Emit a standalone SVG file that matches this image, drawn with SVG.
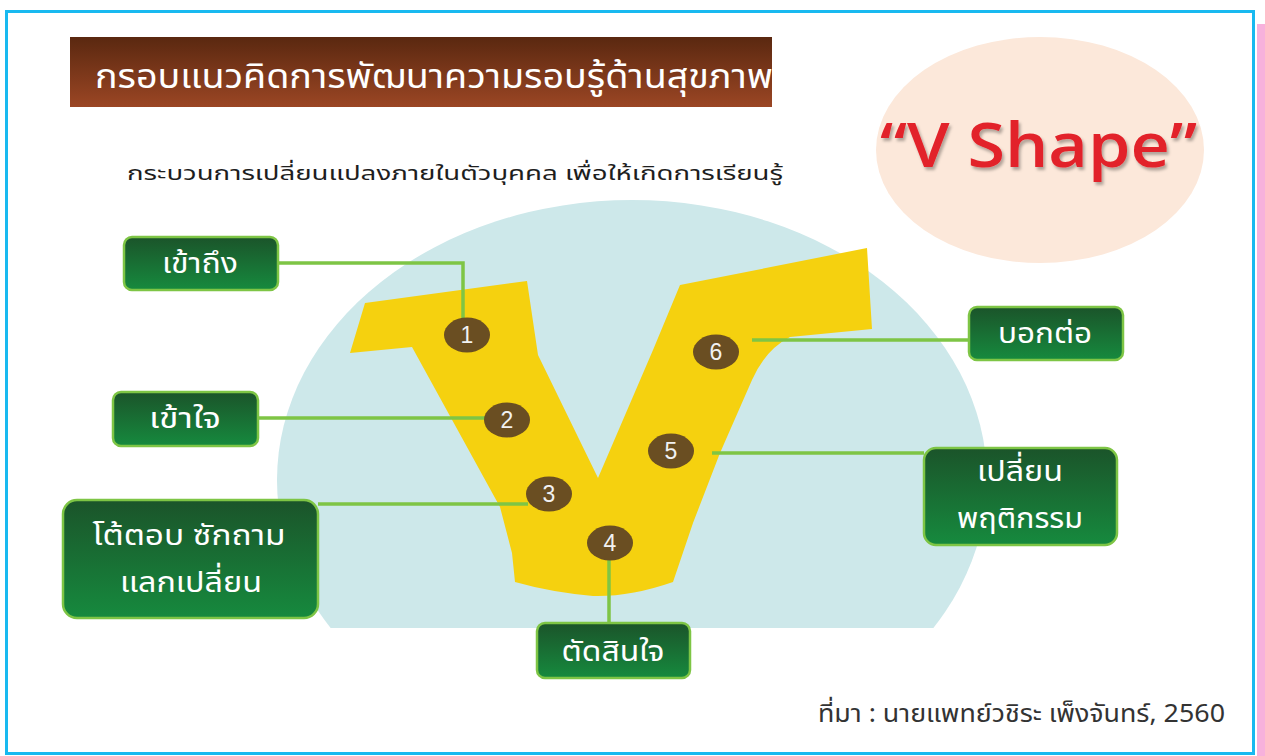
<svg xmlns="http://www.w3.org/2000/svg" width="1265" height="756" viewBox="0 0 1265 756">
  <defs>
    <linearGradient id="titleGrad" x1="0" y1="0" x2="0" y2="1">
      <stop offset="0" stop-color="#5a2810"/>
      <stop offset="1" stop-color="#9b4624"/>
    </linearGradient>
    <linearGradient id="boxGrad" x1="0" y1="0" x2="0" y2="1">
      <stop offset="0" stop-color="#1b542a"/>
      <stop offset="1" stop-color="#168a3e"/>
    </linearGradient>
    <filter id="shadow" x="-10%" y="-20%" width="130%" height="150%">
      <feDropShadow dx="2" dy="3" stdDeviation="1.5" flood-color="#000" flood-opacity="0.3"/>
    </filter>
    <clipPath id="domeClip">
      <rect x="0" y="0" width="1265" height="628"/>
    </clipPath>
  </defs>
  <style>
    .thai { font-family: "Noto Sans Thai", "Noto Sans", "DejaVu Sans", sans-serif; }
    .box { fill: url(#boxGrad); stroke: #7ec545; stroke-width: 2.5; }
    .boxText { fill: #ffffff; font-size: 29px; text-anchor: middle; }
    .conn { stroke: #7ec545; stroke-width: 3.5; fill: none; }
    .badge { fill: #6a4e22; }
    .badgeText { fill: #f2f2f2; font-family: "Liberation Sans", Arial, sans-serif; font-size: 23px; text-anchor: middle; }
  </style>

  <rect x="0" y="0" width="1265" height="756" fill="#ffffff"/>
  <!-- pink strip and blue frame -->
  <rect x="1257" y="24" width="8" height="732" fill="#f7b1dc"/>
  <rect x="6.5" y="11.5" width="1247" height="742" fill="#ffffff" stroke="#18b9f0" stroke-width="3"/>

  <!-- title -->
  <g id="title">
    <rect x="70" y="37" width="702" height="70" fill="url(#titleGrad)"/>
    <text class="thai" x="95" y="88" font-size="34" fill="#ffffff" textLength="678" lengthAdjust="spacingAndGlyphs">กรอบแนวคิดการพัฒนาความรอบรู้ด้านสุขภาพ</text>
  </g>

  <g id="subtitle">
    <text class="thai" x="127" y="180" font-size="20" fill="#1e1e1e" textLength="656" lengthAdjust="spacingAndGlyphs">กระบวนการเปลี่ยนแปลงภายในตัวบุคคล  เพื่อให้เกิดการเรียนรู้</text>
  </g>

  <!-- V Shape ellipse -->
  <g id="vshape-label">
    <ellipse cx="1040" cy="150" rx="164" ry="113" fill="#fce8da"/>
    <text x="880" y="167" font-family="'Open Sans', Lato, sans-serif" font-weight="600" font-size="62" fill="#e2232a" filter="url(#shadow)" textLength="317" lengthAdjust="spacingAndGlyphs">“V Shape”</text>
  </g>

  <!-- dome and V -->
  <g id="background-dome">
    <ellipse cx="632" cy="480" rx="355" ry="280" fill="#cde8ea" clip-path="url(#domeClip)"/>
  </g>
  <g id="v-figure">
    <path d="M365,303 L527,281 L538,355 L598,478 L653,350 L680,285 L867,248 L872,329 L790,337 Q765,350 752,380 L720,453 L693,523 L673,582 Q630,597 593,596 Q550,592 515,582 L512,553 L500,507 L412,347 L350,353 Z" fill="#f5d10f"/>
  </g>

  <!-- connectors -->
  <g id="connectors">
    <polyline class="conn" points="278,263 463,263 463,320"/>
    <line class="conn" x1="258" y1="418" x2="487" y2="418"/>
    <line class="conn" x1="318" y1="504" x2="528" y2="504"/>
    <line class="conn" x1="609" y1="560" x2="609" y2="624"/>
    <line class="conn" x1="712" y1="453" x2="924" y2="453"/>
    <line class="conn" x1="752" y1="340" x2="969" y2="340"/>
  </g>

  <!-- badges -->
  <g id="badge1"><ellipse class="badge" cx="467" cy="335" rx="23" ry="17.5"/><text class="badgeText" x="467" y="343">1</text></g>
  <g id="badge2"><ellipse class="badge" cx="507" cy="420" rx="23" ry="17.5"/><text class="badgeText" x="507" y="428">2</text></g>
  <g id="badge3"><ellipse class="badge" cx="549" cy="494" rx="23" ry="17.5"/><text class="badgeText" x="549" y="502">3</text></g>
  <g id="badge4"><ellipse class="badge" cx="610" cy="543" rx="23" ry="17.5"/><text class="badgeText" x="610" y="551">4</text></g>
  <g id="badge5"><ellipse class="badge" cx="671" cy="451" rx="23" ry="17.5"/><text class="badgeText" x="671" y="459">5</text></g>
  <g id="badge6"><ellipse class="badge" cx="716" cy="352" rx="23" ry="17.5"/><text class="badgeText" x="716" y="360">6</text></g>

  <!-- nodes -->
  <g id="node-access">
    <rect class="box" x="124" y="237" width="154" height="53" rx="8"/>
    <text class="thai boxText" x="200" y="273" textLength="76" lengthAdjust="spacingAndGlyphs">เข้าถึง</text>
  </g>
  <g id="node-understand">
    <rect class="box" x="113" y="392" width="145" height="54" rx="8"/>
    <text class="thai boxText" x="185" y="428" textLength="72" lengthAdjust="spacingAndGlyphs">เข้าใจ</text>
  </g>
  <g id="node-interact">
    <rect class="box" x="63" y="500" width="255" height="118" rx="14"/>
    <text class="thai boxText" x="189" y="545" textLength="193" lengthAdjust="spacingAndGlyphs">โต้ตอบ ซักถาม</text>
    <text class="thai boxText" x="191" y="592" textLength="142" lengthAdjust="spacingAndGlyphs">แลกเปลี่ยน</text>
  </g>
  <g id="node-decide">
    <rect class="box" x="537" y="623" width="153" height="55" rx="8"/>
    <text class="thai boxText" x="613" y="661" textLength="103" lengthAdjust="spacingAndGlyphs">ตัดสินใจ</text>
  </g>
  <g id="node-change">
    <rect class="box" x="924" y="448" width="193" height="97" rx="12"/>
    <text class="thai boxText" x="1020" y="481" textLength="86" lengthAdjust="spacingAndGlyphs">เปลี่ยน</text>
    <text class="thai boxText" x="1020" y="528" textLength="126" lengthAdjust="spacingAndGlyphs">พฤติกรรม</text>
  </g>
  <g id="node-tell">
    <rect class="box" x="969" y="307" width="154" height="53" rx="8"/>
    <text class="thai boxText" x="1045" y="343" textLength="94" lengthAdjust="spacingAndGlyphs">บอกต่อ</text>
  </g>

  <g id="source">
    <text class="thai" x="818" y="722" font-size="25" fill="#333333" textLength="407" lengthAdjust="spacingAndGlyphs">ที่มา : นายแพทย์วชิระ เพ็งจันทร์, 2560</text>
  </g>
</svg>
